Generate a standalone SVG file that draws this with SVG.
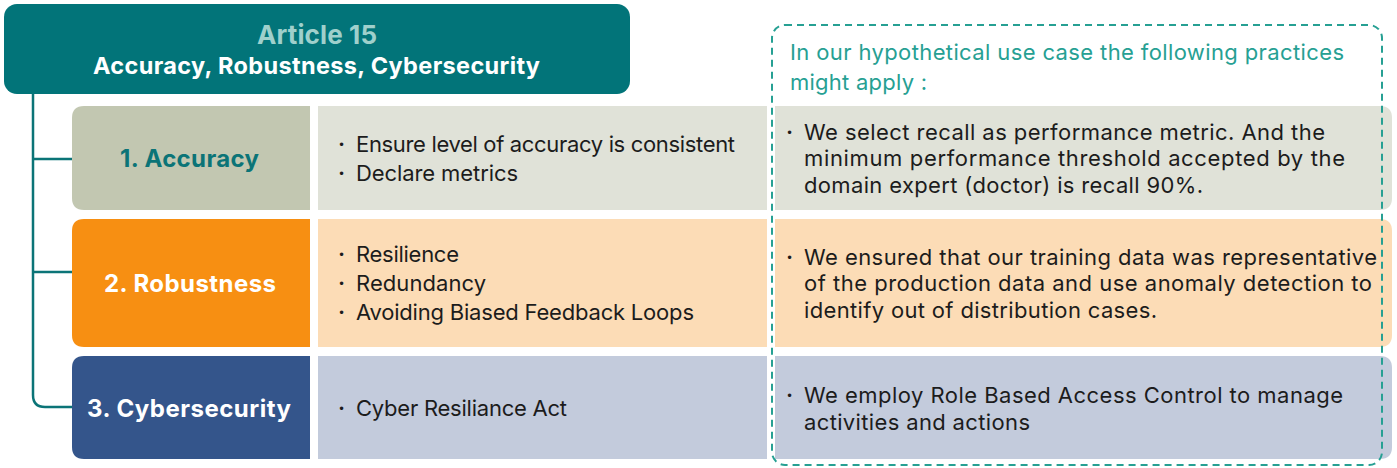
<svg xmlns="http://www.w3.org/2000/svg" width="1397" height="468" viewBox="0 0 1397 468">
<style>
.hdr1{font-family:Inter,"Liberation Sans",sans-serif;font-weight:700;font-size:26px;fill:#9fd0cc}
.hdr2{font-family:Inter,"Liberation Sans",sans-serif;font-weight:700;font-size:23.5px;fill:#ffffff}
.lbl{font-family:Inter,"Liberation Sans",sans-serif;font-weight:700;font-size:24px}
.mid{font-family:Inter,"Liberation Sans",sans-serif;font-size:22px;fill:#1c1c1c}
.rt{font-family:Inter,"Liberation Sans",sans-serif;font-size:22px;fill:#1c1c1c}
.note{font-family:Inter,"Liberation Sans",sans-serif;font-size:22px;fill:#26a093}
.bul{font-family:"DejaVu Sans",sans-serif;font-size:12px;fill:#1c1c1c}
.conn{fill:none;stroke:#0b7477;stroke-width:2.5}
</style>
<rect width="1397" height="468" fill="#ffffff"/>
<g id="connectors">
<path class="conn" d="M33 94 V395 Q33 407 45 407 H72"/>
<path class="conn" d="M33 159 H72"/>
<path class="conn" d="M33 272 H72"/>
</g>
<g id="header">
<rect x="4" y="4" width="626" height="90" rx="13" fill="#027479"/>
<text class="hdr1" x="317" y="44" text-anchor="middle" textLength="120">Article 15</text>
<text class="hdr2" x="316.5" y="74" text-anchor="middle" textLength="447">Accuracy, Robustness, Cybersecurity</text>
</g>
<g id="row1">
<path d="M84 106 H310 V210 H84 Q72 210 72 198 V118 Q72 106 84 106 Z" fill="#c2c7b1"/>
<text class="lbl" x="189.5" y="167" text-anchor="middle" fill="#0b7477" textLength="139">1. Accuracy</text>
<rect x="318" y="106" width="449" height="104" fill="#e0e2d8"/>
<text class="bul" x="338" y="149">•</text><text class="mid" x="356" y="152" textLength="379">Ensure level of accuracy is consistent</text>
<text class="bul" x="338" y="178">•</text><text class="mid" x="356" y="181" textLength="162">Declare metrics</text>
<path d="M775 106 H1380 Q1392 106 1392 118 V198 Q1392 210 1380 210 H775 Z" fill="#e0e2d8"/>
<text class="bul" x="786" y="137">•</text><text class="rt" x="804" y="140" textLength="521">We select recall as performance metric. And the</text>
<text class="rt" x="804" y="166" textLength="541">minimum performance threshold accepted by the</text>
<text class="rt" x="804" y="193" textLength="399">domain expert (doctor) is recall 90%.</text>
</g>
<g id="row2">
<path d="M84 219 H310 V347 H84 Q72 347 72 335 V231 Q72 219 84 219 Z" fill="#f78f12"/>
<text class="lbl" x="190" y="292" text-anchor="middle" fill="#ffffff" textLength="172">2. Robustness</text>
<rect x="318" y="219" width="449" height="128" fill="#fcdcb6"/>
<text class="bul" x="338" y="259">•</text><text class="mid" x="356" y="262" textLength="103">Resilience</text>
<text class="bul" x="338" y="288">•</text><text class="mid" x="356" y="291" textLength="130">Redundancy</text>
<text class="bul" x="338" y="317">•</text><text class="mid" x="356" y="320" textLength="338">Avoiding Biased Feedback Loops</text>
<path d="M775 219 H1380 Q1392 219 1392 231 V335 Q1392 347 1380 347 H775 Z" fill="#fcdcb6"/>
<text class="bul" x="786" y="262">•</text><text class="rt" x="804" y="265" textLength="573">We ensured that our training data was representative</text>
<text class="rt" x="804" y="291" textLength="568">of the production data and use anomaly detection to</text>
<text class="rt" x="804" y="318" textLength="353">identify out of distribution cases.</text>
</g>
<g id="row3">
<path d="M84 356 H310 V459 H84 Q72 459 72 447 V368 Q72 356 84 356 Z" fill="#34558b"/>
<text class="lbl" x="189" y="417" text-anchor="middle" fill="#ffffff" textLength="204">3. Cybersecurity</text>
<rect x="318" y="356" width="449" height="103" fill="#c3cbdc"/>
<text class="bul" x="338" y="413">•</text><text class="mid" x="356" y="416" textLength="211">Cyber Resiliance Act</text>
<path d="M775 356 H1380 Q1392 356 1392 368 V447 Q1392 459 1380 459 H775 Z" fill="#c3cbdc"/>
<text class="bul" x="786" y="400">•</text><text class="rt" x="804" y="403" textLength="539">We employ Role Based Access Control to manage</text>
<text class="rt" x="804" y="430" textLength="226">activities and actions</text>
</g>
<g id="practices">
<rect x="772" y="25" width="610" height="440" rx="13" fill="none" stroke="#26a093" stroke-width="2" stroke-dasharray="7 5"/>
<text class="note" x="790" y="60" textLength="554">In our hypothetical use case the following practices</text>
<text class="note" x="790" y="90" textLength="137">might apply :</text>
</g>
</svg>
